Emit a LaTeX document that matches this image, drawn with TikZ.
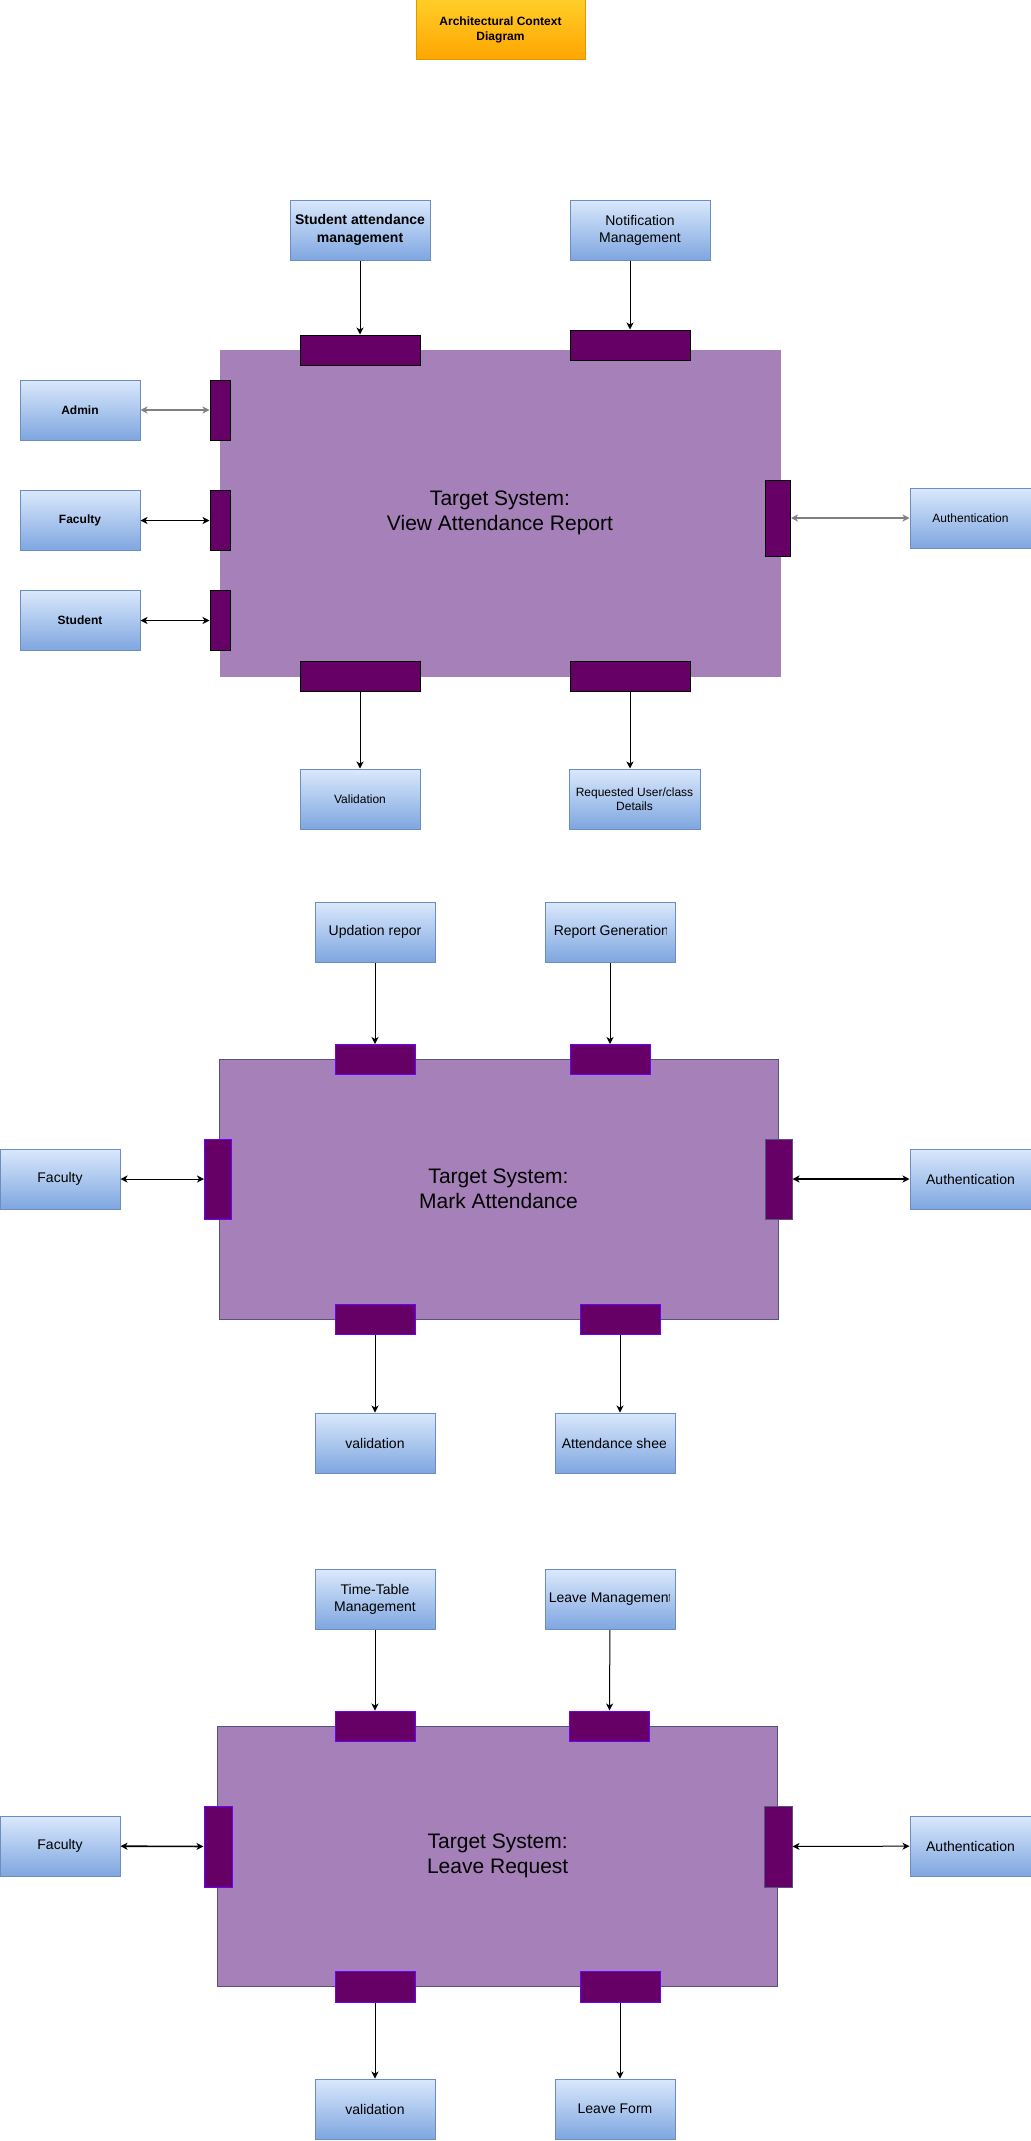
\documentclass[tikz,border=0pt]{standalone}
\usepackage{fontspec}
\setmainfont{Liberation Sans}
\usetikzlibrary{arrows.meta,positioning,calc}
\definecolor{boxtop}{HTML}{DAE8FC}
\definecolor{boxbot}{HTML}{7EA6E0}
\definecolor{boxline}{HTML}{6C8EBF}
\definecolor{sysfill}{HTML}{A680B8}
\definecolor{sysline}{HTML}{56517E}
\definecolor{portfill}{HTML}{660066}
\definecolor{portline}{HTML}{6A00FF}
\definecolor{titletop}{HTML}{FFCD28}
\definecolor{titlebot}{HTML}{FFA500}
\definecolor{titleline}{HTML}{D79B00}

\begin{document}
\begin{tikzpicture}[x=0.75pt,y=-0.75pt,>={Stealth[length=5.25pt,width=5.25pt,inset=1.5pt]},
	sz/.style 2 args={minimum width=#1*0.75pt,minimum height=#2*0.75pt},
	actor/.style={draw=boxline,line width=0.75pt,top color=boxtop,bottom color=boxbot,inner sep=0pt,align=center,font=\fontsize{10.5}{12.6}\selectfont},
	small/.style={font=\fontsize{9}{10.8}\selectfont},
	smallb/.style={font=\bfseries\fontsize{9}{10.8}\selectfont},
	port/.style={draw=portline,fill=portfill,line width=0.75pt,inner sep=0pt},
	target/.style={fill=sysfill,draw=sysline,line width=0.75pt,inner sep=0pt,align=center,font=\fontsize{15.75}{18.4}\selectfont},
	flow/.style={->,line width=0.75pt},
	link/.style={<->,line width=0.75pt}]
			\useasboundingbox (0,0) rectangle (1031,2141);
			\node[draw=titleline,top color=titletop,bottom color=titlebot,line width=0.75pt,sz={169}{60},align=center,font=\bfseries\fontsize{9}{11.25}\selectfont] (title) at (500.5,30) {Architectural Context\\Diagram};

			\node[target,draw=sysfill,sz={560}{326}] (sys1) at (500,513) {Target System:\\View Attendance Report};
			\node[port,draw=black,sz={120}{30}] (p1n1) at (360,350) {};
			\node[port,draw=black,sz={120}{30}] (p1n2) at (630,345) {};
			\node[port,draw=black,sz={20}{60}] (p1w1) at (220,410) {};
			\node[port,draw=black,sz={20}{60}] (p1w2) at (220,520.5) {};
			\node[port,draw=black,sz={20}{60}] (p1w3) at (220,620.5) {};
			\node[port,draw=black,sz={25}{76}] (p1e) at (778,518) {};
			\node[port,draw=black,sz={120}{30}] (p1s1) at (360,676.5) {};
			\node[port,draw=black,sz={120}{30}] (p1s2) at (630,676.5) {};
			\node[actor,sz={140}{60},font=\bfseries\fontsize{10.5}{13.5}\selectfont] (sam) at (360,230) {Student attendance\\management};
			\node[actor,sz={140}{60},font=\fontsize{10.5}{12.75}\selectfont] (notif) at (640,230) {Notification\\Management};
			\node[actor,smallb,sz={120}{60}] (admin) at (80,410) {Admin};
			\node[actor,smallb,sz={120}{60}] (fac1) at (80,520.5) {Faculty};
			\node[actor,smallb,sz={120}{60}] (stu1) at (80,620.5) {Student};
			\node[actor,small,sz={121}{60}] (auth1) at (970.5,518) {Authentication};
			\node[actor,small,sz={120}{60}] (val1) at (360,799) {Validation};
			\node[actor,small,sz={131}{60}] (req1) at (634.5,799) {Requested User/class\\Details};
			\draw[flow] (sam) -- (p1n1);
			\draw[flow] (p1n2 |- notif.south) -- (p1n2);
			\draw[link,gray,line width=1.5pt] (admin) -- (p1w1);
			\draw[link] (fac1) -- (p1w2);
			\draw[link] (stu1) -- (p1w3);
			\draw[link,gray,line width=1.5pt] (p1e) -- (auth1);
			\draw[flow] (p1s1) -- (val1);
			\draw[flow] (p1s2) -- (p1s2 |- req1.north);

			\node[target,sz={559}{260}] (sys2) at (498.5,1189) {Target System:\\Mark Attendance};
			\node[port,sz={80}{30}] (p2n1) at (375,1059.5) {};
			\node[port,sz={80}{30}] (p2n2) at (610,1059.5) {};
			\node[port,sz={27}{80}] (p2w) at (218,1179) {};
			\node[port,draw=sysline,sz={27}{80}] (p2e) at (778.5,1179) {};
			\node[port,sz={80}{30}] (p2s1) at (375,1319) {};
			\node[port,sz={80}{30}] (p2s2) at (620,1319) {};
			\node[actor,sz={120}{60}] (upd) at (375,932) {Updation repor};
			\node[actor,sz={130}{60}] (rgen) at (610,932) {};
			\begin{scope}
				\clip (rgen.north west) rectangle ([xshift=-7.1pt]rgen.south east);
				\node[anchor=west,inner sep=0pt,font=\fontsize{10.5}{12.6}\selectfont] (rgentxt) at ([xshift=6.75pt]rgen.west) {Report Generation};
			\end{scope}
			\node[actor,sz={120}{60}] (fac2) at (60,1179) {Faculty};
			\node[actor,sz={121}{60}] (auth2) at (970.5,1179) {Authentication};
			\node[actor,sz={120}{60}] (val2) at (375,1443) {validation};
			\node[actor,sz={120}{60}] (sheet) at (615,1443) {};
			\begin{scope}
				\clip (sheet.north west) rectangle ([xshift=-7.5pt]sheet.south east);
				\node[anchor=west,inner sep=0pt,font=\fontsize{10.5}{12.6}\selectfont] (sheettxt) at ([xshift=5.25pt]sheet.west) {Attendance sheet};
			\end{scope}
			\draw[flow] (upd) -- (p2n1);
			\draw[flow] (rgen) -- (p2n2);
			\draw[link] (fac2) -- (p2w);
			\draw[link,line width=1.5pt] (p2e) -- (auth2);
			\draw[flow] (p2s1) -- (val2);
			\draw[flow] (p2s2) -- (p2s2 |- sheet.north);

			\node[target,sz={560}{260}] (sys3) at (497.7,1856) {Target System:\\Leave Request};
			\node[port,sz={80}{30}] (p3n1) at (375,1726) {};
			\node[port,sz={80}{30}] (p3n2) at (609.5,1726) {};
			\node[port,sz={28}{81}] (p3w) at (218,1846.5) {};
			\node[port,draw=sysline,sz={28}{81}] (p3e) at (778,1846.5) {};
			\node[port,sz={80}{31}] (p3s1) at (375,1986.5) {};
			\node[port,sz={80}{31}] (p3s2) at (620,1986.5) {};
			\node[actor,sz={120}{60}] (ttm) at (375,1599.5) {Time-Table\\Management};
			\node[actor,sz={130}{60}] (lvm) at (610,1599.5) {};
			\begin{scope}
				\clip (lvm.north west) rectangle ([xshift=-4.5pt]lvm.south east);
				\node[anchor=west,inner sep=0pt,font=\fontsize{10.5}{12.6}\selectfont] (lvmtxt) at ([xshift=3pt]lvm.west) {Leave Management};
			\end{scope}
			\node[actor,sz={120}{60}] (fac3) at (60,1846) {Faculty};
			\node[actor,sz={121}{60}] (auth3) at (970.5,1846) {Authentication};
			\node[actor,sz={120}{60}] (val3) at (375,2109) {validation};
			\node[actor,sz={120}{60}] (lform) at (615,2109) {Leave Form};
			\draw[flow] (ttm) -- (p3n1);
			\draw[flow] (lvm) -- (p3n2);
			\draw[link,line width=1.2pt] (fac3) -- (p3w);
			\draw[link] (p3e) -- (auth3);
			\draw[flow] (p3s1) -- (val3);
			\draw[flow] (p3s2) -- (p3s2 |- lform.north);
		\end{tikzpicture}
\end{document}
